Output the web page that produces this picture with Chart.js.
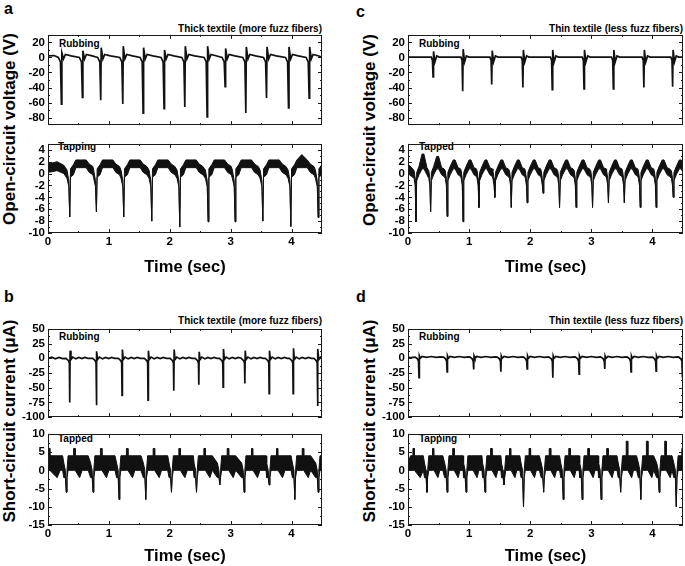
<!DOCTYPE html>
<html>
<head>
<meta charset="utf-8">
<script src="https://cdn.jsdelivr.net/npm/chart.js@4.4.1/dist/chart.umd.min.js"></script>
<style>
  html, body { margin: 0; padding: 0; background: #fff; }
  body { width: 685px; height: 566px; position: relative; overflow: hidden;
         font-family: 'Liberation Sans', Arial, Helvetica, sans-serif; font-weight: bold; color: #000; }
  .lbl { position: absolute; white-space: nowrap; line-height: 1; transform: translateY(-50%); }
  .r { transform: translate(-100%, -50%); }
  .ytitle { position: absolute; white-space: nowrap; line-height: 1; font-size: 17px;
            transform: translate(-50%, -50%) rotate(-90deg); }
  .wrap { position: absolute; }
</style>
</head>
<body>
<div class="lbl" style="left:4px;top:9px;font-size:16px">a</div>
<div class="lbl" style="left:356px;top:12px;font-size:16px">c</div>
<div class="lbl" style="left:4px;top:297px;font-size:16px">b</div>
<div class="lbl" style="left:356px;top:297px;font-size:16px">d</div>

<div class="lbl r" style="left:322px;top:29px;font-size:10px">Thick textile (more fuzz fibers)</div>
<div class="lbl r" style="left:683px;top:29px;font-size:10px">Thin textile (less fuzz fibers)</div>
<div class="lbl r" style="left:322px;top:321px;font-size:10px">Thick textile (more fuzz fibers)</div>
<div class="lbl r" style="left:683px;top:321px;font-size:10px">Thin textile (less fuzz fibers)</div>

<div class="lbl" style="left:59px;top:44px;font-size:10px">Rubbing</div>
<div class="lbl" style="left:58px;top:147px;font-size:10px">Tapping</div>
<div class="lbl" style="left:59px;top:337px;font-size:10px">Rubbing</div>
<div class="lbl" style="left:58px;top:439px;font-size:10px">Tapped</div>
<div class="lbl" style="left:419px;top:44px;font-size:10px">Rubbing</div>
<div class="lbl" style="left:419px;top:147px;font-size:10px">Tapped</div>
<div class="lbl" style="left:419px;top:337px;font-size:10px">Rubbing</div>
<div class="lbl" style="left:419px;top:439px;font-size:10px">Tapping</div>

<div class="ytitle" style="left:9px;top:129px">Open-circuit voltage (V)</div>
<div class="ytitle" style="left:369px;top:130px">Open-circuit voltage (V)</div>
<div class="ytitle" style="left:9px;top:421px">Short-circuit current (μA)</div>
<div class="ytitle" style="left:369px;top:421px">Short-circuit current (μA)</div>

<script>
const FONT = "'Liberation Sans', Arial, Helvetica, sans-serif";
const TIME_TICKS = [0, 1, 2, 3, 4];
const VOLT_RUB_TICKS = [-80, -60, -40, -20, 0, 20];
const VOLT_TAP_TICKS = [-10, -8, -6, -4, -2, 0, 2, 4];
const CURR_RUB_TICKS = [-100, -75, -50, -25, 0, 25, 50];
const CURR_TAP_TICKS = [-15, -10, -5, 0, 5, 10];

// a: thick textile, voltage, rubbing
const A_RUB_T = [0.22, 0.565, 0.866, 1.228, 1.562, 1.906, 2.247, 2.613, 2.909, 3.249, 3.589, 3.95, 4.289];
const A_RUB_MIN = [-62, -53, -57, -62, -74, -68, -66, -79, -39, -74, -54, -67, -54];
const A_RUB_MAX = [6, 9, 13, 15, 13, 10, 15, 15, 12, 14, 14, 14, 14];
const A_RUB_SHAPE = [[-0.05, 0], [-0.015, -6], [0, 'min'], [0.008, 'max'], [0.035, -2], [0.065, 4], [0.16, 2]];
const A_RUB_HEAD = [[0, 2], [0.1, 2.5]];
const A_RUB_TAIL = [[4.5, 0]];

// a: thick textile, voltage, tapping  (dt, upper, lower)
const A_TAP_T = [0.357, 0.795, 1.244, 1.704, 2.164, 2.63, 3.073, 3.528, 3.988, 4.437];
const A_TAP_MIN = [-7.3, -6.4, -7.3, -8.0, -9.0, -8.1, -8.1, -8.0, -8.9, -7.4];
const A_TAP_PEAK = [2.3, 2.3, 2.3, 2.3, 2.3, 2.3, 2.3, 2.3, 3.2, 2.3];
const A_TAP_SHAPE = [[-0.045, 0.6, -0.8], [-0.015, -1.2, -2.2], [0, 'min', 'min'], [0.012, 0.8, -0.6],
  [0.06, 1.5, -0.2], [0.1, 2.3, 1.0], [0.18, 'peak', 1.0], [0.27, 2.3, 1.0], [0.32, 1.6, 0.2], [0.38, 1.2, -0.2]];
const A_TAP_HEAD = [[0, 1.6, 0.2], [0.15, 2.0, 0.5], [0.26, 1.4, 0]];
const A_TAP_TAIL = [[4.5, 1.2, -0.2]];

// c: thin textile, voltage, rubbing
const C_RUB_T = [0.41, 0.895, 1.37, 1.88, 2.36, 2.88, 3.36, 3.86, 4.33];
const C_RUB_MIN = [-26, -45, -36, -40, -43, -42, -42, -40, -39];
const C_RUB_MAX = [8, 11, 9, 10, 10, 10, 10, 10, 10];
const C_RUB_SHAPE = [[-0.03, 0.5], [-0.01, -4], [0, 'min'], [0.008, 'max'], [0.03, -6], [0.06, 2], [0.1, 0.5]];
const C_RUB_HEAD = [[0, 0.5]];
const C_RUB_TAIL = [[4.5, 0.5]];

// c: thin textile, voltage, tapped
const C_TAP_T = [0.13, 0.37, 0.64, 0.90, 1.16, 1.42, 1.69, 1.95, 2.21, 2.48, 2.75, 3.02, 3.28, 3.54, 3.80, 4.06, 4.34];
const C_TAP_MIN = [-8.1, -6.4, -7.2, -8.1, -5.7, -4.0, -5.7, -4.9, -3.3, -5.7, -5.7, -5.7, -4.9, -4.9, -5.7, -5.7, -4.0];
const C_TAP_PEAK = [3.3, 2.9, 2.3, 2.3, 2.3, 2.3, 2.3, 2.3, 2.3, 2.3, 2.3, 2.3, 2.3, 2.3, 2.3, 2.3, 2.3];
const C_TAP_SHAPE = [[-0.03, 0.5, -0.8], [-0.012, -0.8, -2.0], [0, 'min', 'min'], [0.012, 0.2, -1.2],
  [0.05, 1.2, -0.2], [0.1, 'peak', 0.8], [0.13, 'peak', 0.8], [0.18, 1.0, -0.2], [0.22, 0.8, -0.5]];
const C_TAP_HEAD = [[0, 1.6, 0], [0.06, 1.0, -0.5]];
const C_TAP_TAIL = [];

// b: thick textile, current, rubbing
const B_RUB_T = [0.357, 0.795, 1.216, 1.643, 2.066, 2.477, 2.876, 3.233, 3.632, 4.026, 4.427];
const B_RUB_MIN = [-75, -80, -63, -71, -55, -45, -49, -43, -60, -60, -81];
const B_RUB_MAX = [13, 12, 15, 13, 15, 11, 16, 13, 13, 17, 16];
const B_RUB_SHAPE = [[-0.06, 0], [-0.02, -4], [-0.006, -8], [0, 'min'], [0.006, 'max'], [0.02, -2], [0.05, 2],
  [0.1, -1], [0.15, 1.5], [0.2, -0.5], [0.25, 1.5], [0.3, 0]];
const B_RUB_HEAD = [[0, 0], [0.06, 2], [0.12, -1], [0.18, 1.5], [0.24, -0.5]];
const B_RUB_TAIL = [[4.5, 0]];

// b: thick textile, current, tapped
const B_TAP_T = [0.30, 0.74, 1.167, 1.606, 2.028, 2.439, 2.822, 3.221, 3.632, 4.054, 4.437];
const B_TAP_MIN = [-6, -6, -8, -8, -6, -6, -4, -6, -4, -8, -6];
const B_TAP_PEAK = [6, 6, 6, 6, 6, 6, 6, 6, 6, 6, 6];
const B_TAP_SHAPE = [[-0.04, 2, -2], [-0.015, 0, -2], [0, 'min', 'min'], [0.012, 0, -2], [0.03, 4, 0],
  [0.12, 4, 0], [0.121, 'peak', 0], [0.145, 'peak', 0], [0.146, 4, 0], [0.22, 4, -2], [0.26, 4, 0], [0.36, 4, 0]];
const B_TAP_HEAD = [[0, 4, 0], [0.01, 6, 0], [0.03, 6, 0], [0.031, 4, 0], [0.15, 4, -2], [0.2, 4, 0], [0.24, 4, 0]];
const B_TAP_TAIL = [[4.5, 4, 0]];

// d: thin textile, current, rubbing
const D_RUB_T = [0.18, 0.64, 1.075, 1.52, 1.95, 2.37, 2.80, 3.22, 3.65, 4.06, 4.49];
const D_RUB_MIN = [-33, -23, -19, -23, -18, -33, -27, -18, -23, -22, -31];
const D_RUB_SHAPE = [[-0.06, 2], [-0.025, -1], [-0.008, -5], [0, 'min'], [0.006, 4], [0.02, 0], [0.05, 3],
  [0.12, 1.5], [0.2, 3], [0.28, 1.5], [0.35, 2.5]];
const D_RUB_HEAD = [[0, 2], [0.05, 1]];
const D_RUB_TAIL = [];

// d: thin textile, current, tapping
const D_TAP_T = [0.31, 0.64, 0.95, 1.26, 1.57, 1.89, 2.22, 2.54, 2.85, 3.16, 3.48, 3.81, 4.11, 4.39];
const D_TAP_MIN = [-6, -6, -6, -6, -4, -10, -6, -8, -8, -8, -6, -8, -6, -10];
const D_TAP_PEAK = [6, 6, 4, 6, 6, 6, 6, 6, 6, 6, 8, 8, 8, 6];
const D_TAP_SHAPE = [[-0.04, 2, -2], [-0.015, 0, -2], [0, 'min', 'min'], [0.012, 0, -2], [0.03, 4, 0],
  [0.09, 4, 0], [0.091, 'peak', 0], [0.115, 'peak', 0], [0.116, 4, 0], [0.18, 4, -2], [0.21, 4, 0], [0.26, 4, 0]];
const D_TAP_HEAD = [[0, 2, 0], [0.04, 4, 0], [0.08, 4, 0], [0.081, 6, 0], [0.105, 6, 0], [0.106, 4, 0], [0.2, 4, -2], [0.25, 4, 0]];
const D_TAP_TAIL = [];

// lay the read shape around each read spike
function trace(times, extra, shape, head, tail) {
  const pts = [];
  const first = times[0] + shape[0][0];
  head.forEach(([x, y]) => { if (x < first) pts.push({ x, y }); });
  times.forEach((t, i) => {
    const limit = i + 1 < times.length ? times[i + 1] + shape[0][0] : Infinity;
    shape.forEach(([dt, v]) => {
      const x = t + dt;
      if (dt > 0 && x >= limit) return;
      pts.push({ x, y: typeof v === 'string' ? extra[v][i] : v });
    });
  });
  const lastX = pts[pts.length - 1].x;
  tail.forEach(([x, y]) => { if (x > lastX) pts.push({ x, y }); });
  return pts;
}

const lineSet = (data) => ({ data, borderColor: '#111', borderWidth: 1.7, pointRadius: 0, tension: 0, fill: false, clip: 0 });

function bandSets(times, extra, shape, head, tail) {
  const pick = (arr, k) => arr.map((row) => [row[0], row[k]]);
  const hi = trace(times, extra, pick(shape, 1), pick(head, 1), pick(tail, 1));
  const lo = trace(times, extra, pick(shape, 2), pick(head, 2), pick(tail, 2));
  return [
    { data: hi, borderColor: '#111', borderWidth: 1, pointRadius: 0, tension: 0, fill: false, clip: 0 },
    { data: lo, borderColor: '#111', borderWidth: 1, pointRadius: 0, tension: 0, fill: '-1', backgroundColor: '#111', clip: 0 },
  ];
}

function minors(ticks, lo, hi) {
  const step = ticks[1] - ticks[0];
  const out = [];
  for (let v = ticks[0] - step / 2; v < hi; v += step) if (v > lo) out.push(v);
  return out;
}

const frame = {
  id: 'frame',
  afterDatasetsDraw(chart) {
    const { ctx, chartArea: a, scales: { x, y } } = chart;
    const yt = chart.options.scales.y.tickValues;
    ctx.save();
    ctx.strokeStyle = '#1a1a1a';
    ctx.lineWidth = 1;
    ctx.strokeRect(Math.round(a.left) + 0.5, Math.round(a.top) + 0.5, Math.round(a.right - a.left) - 1, Math.round(a.bottom - a.top) - 1);
    ctx.beginPath();
    const xMark = (v, len) => {
      const px = Math.round(x.getPixelForValue(v)) + 0.5;
      ctx.moveTo(px, a.bottom); ctx.lineTo(px, a.bottom - len);
      ctx.moveTo(px, a.top); ctx.lineTo(px, a.top + len);
    };
    const yMark = (v, len) => {
      const py = Math.round(y.getPixelForValue(v)) + 0.5;
      ctx.moveTo(a.left, py); ctx.lineTo(a.left + len, py);
      ctx.moveTo(a.right, py); ctx.lineTo(a.right - len, py);
    };
    TIME_TICKS.forEach((v) => xMark(v, 4));
    minors(TIME_TICKS, 0, 4.5).forEach((v) => xMark(v, 2));
    yt.forEach((v) => yMark(v, 4));
    minors(yt, y.min, y.max).forEach((v) => yMark(v, 2));
    ctx.stroke();
    ctx.restore();
  },
};

function panel(cfg) {
  const wrap = document.createElement('div');
  wrap.className = 'wrap';
  wrap.style.left = cfg.left + 'px';
  wrap.style.top = cfg.top + 'px';
  const canvas = document.createElement('canvas');
  canvas.width = cfg.width;
  canvas.height = cfg.height;
  wrap.appendChild(canvas);
  document.body.appendChild(wrap);
  const tickFont = { family: FONT, size: 11.5, weight: 'bold' };
  new Chart(canvas, {
    type: 'line',
    data: { datasets: cfg.datasets },
    options: {
      responsive: false,
      animation: false,
      parsing: false,
      events: [],
      layout: { padding: { top: 8, bottom: cfg.showX ? 0 : 8, left: 0, right: cfg.padRight } },
      plugins: { legend: { display: false }, tooltip: { enabled: false } },
      scales: {
        x: {
          type: 'linear', min: 0, max: 4.5, display: cfg.showX,
          afterBuildTicks: (s) => { s.ticks = TIME_TICKS.map((value) => ({ value })); },
          grid: { display: false, drawTicks: false }, border: { display: false },
          ticks: { font: tickFont, color: '#000', padding: 2, maxRotation: 0, autoSkip: false },
          title: { display: true, text: 'Time (sec)', color: '#000', padding: 0, font: { family: FONT, size: 16.5, weight: 'bold' } },
          afterFit: (s) => { if (cfg.showX) s.height = cfg.xH; },
        },
        y: {
          type: 'linear', min: cfg.yMin, max: cfg.yMax, tickValues: cfg.ticks,
          afterBuildTicks: (s) => { s.ticks = cfg.ticks.map((value) => ({ value })); },
          grid: { display: false, drawTicks: false }, border: { display: false },
          ticks: { font: tickFont, color: '#000', padding: 3, autoSkip: false },
          afterFit: (s) => { s.width = cfg.yW; },
        },
      },
    },
    plugins: [frame],
  });
}

const LEFT = { left: 0, width: 340, yW: 48, padRight: 18 };
const RIGHT = { left: 340, width: 345, yW: 68, padRight: 2 };
const ROW1_TOP = { top: 25, height: 110, showX: false, yMin: -90, yMax: 30, ticks: VOLT_RUB_TICKS };
const ROW1_BOT = { top: 134, height: 143, showX: true, xH: 44, yMin: -10, yMax: 5, ticks: VOLT_TAP_TICKS };
const ROW2_TOP = { top: 319, height: 108, showX: false, yMin: -100, yMax: 50, ticks: CURR_RUB_TICKS };
const ROW2_BOT = { top: 424, height: 142, showX: true, xH: 41, yMin: -15, yMax: 10, ticks: CURR_TAP_TICKS };

panel({ ...LEFT, ...ROW1_TOP, datasets: [lineSet(trace(A_RUB_T, { min: A_RUB_MIN, max: A_RUB_MAX }, A_RUB_SHAPE, A_RUB_HEAD, A_RUB_TAIL))] });
panel({ ...LEFT, ...ROW1_BOT, datasets: bandSets(A_TAP_T, { min: A_TAP_MIN, peak: A_TAP_PEAK }, A_TAP_SHAPE, A_TAP_HEAD, A_TAP_TAIL) });
panel({ ...RIGHT, ...ROW1_TOP, datasets: [lineSet(trace(C_RUB_T, { min: C_RUB_MIN, max: C_RUB_MAX }, C_RUB_SHAPE, C_RUB_HEAD, C_RUB_TAIL))] });
panel({ ...RIGHT, ...ROW1_BOT, datasets: bandSets(C_TAP_T, { min: C_TAP_MIN, peak: C_TAP_PEAK }, C_TAP_SHAPE, C_TAP_HEAD, C_TAP_TAIL) });
panel({ ...LEFT, ...ROW2_TOP, datasets: [lineSet(trace(B_RUB_T, { min: B_RUB_MIN, max: B_RUB_MAX }, B_RUB_SHAPE, B_RUB_HEAD, B_RUB_TAIL))] });
panel({ ...LEFT, ...ROW2_BOT, datasets: bandSets(B_TAP_T, { min: B_TAP_MIN, peak: B_TAP_PEAK }, B_TAP_SHAPE, B_TAP_HEAD, B_TAP_TAIL) });
panel({ ...RIGHT, ...ROW2_TOP, datasets: [lineSet(trace(D_RUB_T, { min: D_RUB_MIN }, D_RUB_SHAPE, D_RUB_HEAD, D_RUB_TAIL))] });
panel({ ...RIGHT, ...ROW2_BOT, datasets: bandSets(D_TAP_T, { min: D_TAP_MIN, peak: D_TAP_PEAK }, D_TAP_SHAPE, D_TAP_HEAD, D_TAP_TAIL) });
</script>
</body>
</html>
